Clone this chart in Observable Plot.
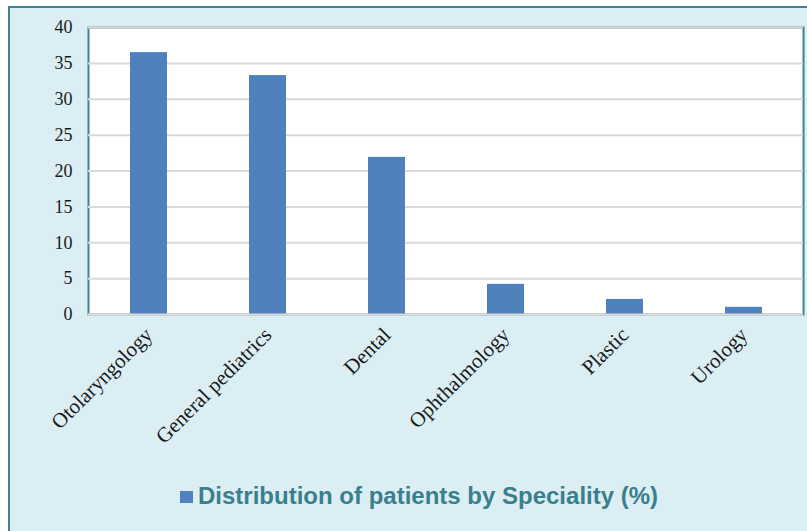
<!DOCTYPE html>
<html>
<head>
<meta charset="utf-8">
<script src="https://cdn.jsdelivr.net/npm/d3@7"></script>
<script src="https://cdn.jsdelivr.net/npm/@observablehq/plot@0.6"></script>
<style>
  html, body { margin: 0; padding: 0; width: 807px; height: 531px; overflow: hidden; background: #ffffff; }
  #panel { position: absolute; left: 8px; top: 6px; width: 820px; height: 540px; box-sizing: border-box;
           border: 2px solid #3f8391; background: #dbeef4; }
  #chart { position: absolute; left: 0; top: 0; }
  #legend { position: absolute; left: 180px; top: 482px; display: flex; align-items: center;
            font-family: "Liberation Sans", Arial, sans-serif; font-weight: bold; font-size: 24px; color: #3a7f8c; }
  #legend .sw { width: 13px; height: 12px; background: #4f81bd; margin-right: 5px; margin-top: 2px; }
</style>
</head>
<body>
<div id="panel"></div>
<div id="chart"></div>
<div id="legend"><span class="sw"></span><span>Distribution of patients by Speciality (%)</span></div>
<script>
const categories = ["Otolaryngology", "General pediatrics", "Dental", "Ophthalmology", "Plastic", "Urology"];
const values = [36.5, 33.3, 21.9, 4.2, 2.1, 1.0];
const yTicks = [0, 5, 10, 15, 20, 25, 30, 35, 40];

const data = categories.map((c, i) => ({category: c, value: values[i]}));

const plot = Plot.plot({
  width: 807,
  height: 460,
  marginLeft: 88,
  marginTop: 27,
  marginRight: 4,
  marginBottom: 146,
  style: {background: "transparent", fontFamily: "'Liberation Serif', 'Times New Roman', serif", fontSize: "18px", color: "#1a1a1a"},
  x: {domain: categories, paddingInner: 0.69, paddingOuter: 0.345, label: null},
  y: {domain: [0, 40], label: null},
  marks: [
    Plot.frame({fill: "white", stroke: "#3f8391", strokeWidth: 2}),
    Plot.gridY(yTicks, {stroke: "#d9d9d9", strokeOpacity: 1, strokeWidth: 2}),
    Plot.barY(data, {x: "category", y: "value", fill: "#4f81bd"}),
    Plot.ruleY([0], {stroke: "#d9d9d9", strokeWidth: 2}),
    Plot.axisY(yTicks, {tickSize: 0, tickPadding: 16, fontSize: 18, label: null}),
    Plot.axisX({tickSize: 0, tickPadding: 17, tickRotate: -45, fontSize: 21, label: null, dx: 0})
  ]
});
document.getElementById("chart").appendChild(plot);
</script>
</body>
</html>
